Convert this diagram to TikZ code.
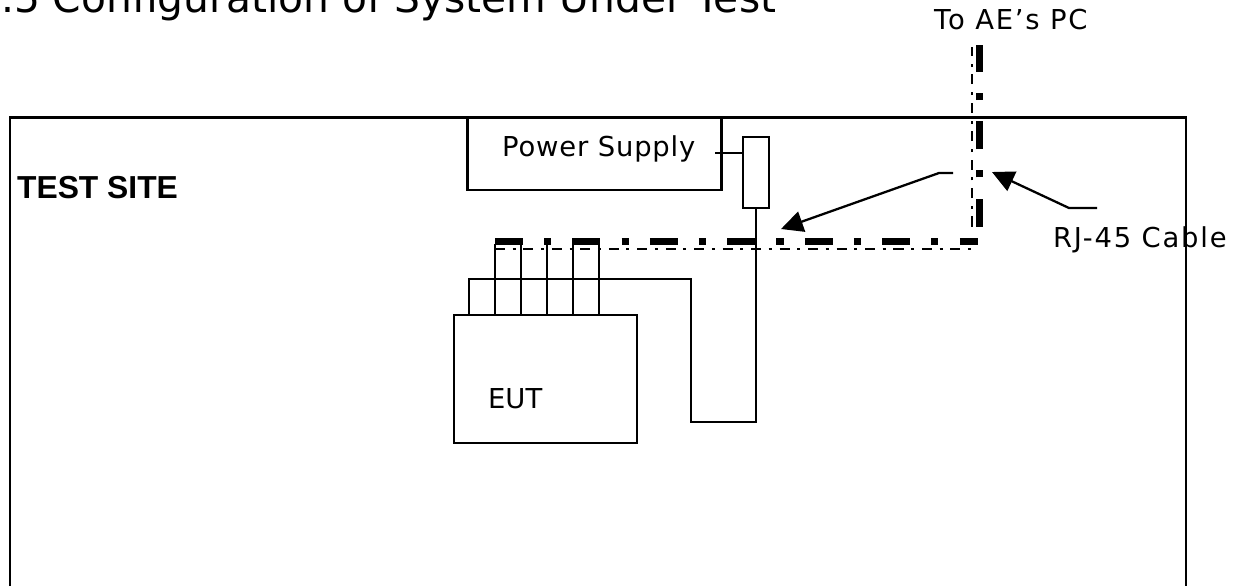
\documentclass[tikz,border=0pt]{standalone}
\usepackage{fontspec}
\setmainfont{DejaVu Sans}
\newfontfamily\sitefont{Liberation Sans}
\newfontfamily\widefont[LetterSpace=6.5]{DejaVu Sans}
\newfontfamily\midfont[LetterSpace=3]{DejaVu Sans}
\usetikzlibrary{arrows.meta}

\begin{document}
\begin{tikzpicture}[x=0.02cm,y=-0.02cm,line width=1.3pt,
        box/.style={draw,inner sep=0pt},
        txt/.style={inner sep=0pt,anchor=base west,font=\fontsize{15.6}{18}\selectfont},
        widetxt/.style={inner sep=0pt,anchor=base west,font=\widefont\fontsize{15.6}{18}\selectfont},
        midtxt/.style={inner sep=0pt,anchor=base west,font=\midfont\fontsize{15.6}{18}\selectfont},
        cablethick/.style={line width=4.1pt,dash pattern=on 15.9pt off 12pt on 4pt off 12.2pt},
        cablethin/.style={line width=1.2pt,dash pattern=on 5.7pt off 4.3pt on 1.7pt off 4.5pt},
        pointer/.style={-{Triangle[length=12.5pt,width=12pt]}}]
    \useasboundingbox (0,0) rectangle (1236,586);
    \node[anchor=base west,inner sep=0pt,font=\fontsize{23.2}{26}\selectfont] (title) at (0,12) {.5 Configuration of System Under Test};
    \node[widetxt] (toae) at (933,29) {To AE’s PC};
    \draw (10,586)--(10,117.5)--(1186,117.5)--(1186,586);
    \node[anchor=base west,inner sep=0pt,font=\sitefont\bfseries\fontsize{18.1}{20}\selectfont] (site) at (16,198) {TEST SITE};
    \node[box,minimum width=144.5pt,minimum height=41.5pt] (psu) at (594.5,153.5) {};
    \node[midtxt] (psutext) at (501,156) {Power Supply};
    \node[box,minimum width=14.8pt,minimum height=40.4pt] (tap) at (756,172.5) {};
    \node[box,minimum width=104pt,minimum height=72.8pt] (eut) at (545.5,379) {};
    \node[txt] (euttext) at (487,408) {EUT};
    \node[widetxt] (rj) at (1052,247) {RJ-45 Cable};

    \coordinate (stub) at (715,153);
    \draw (stub)--(stub -| tap.west);

    \coordinate (turn) at (756,422);
    \draw (tap.south)--(turn)--(691,422)--(691,279)--(469,279)--(469,315);

    \coordinate (hstart) at (495,241.5);
    \coordinate (hend) at (978,241.5);
    \coordinate (vstart) at (979.5,226.5);
    \coordinate (vend) at (979.5,45);
    \draw[cablethick] (hstart)--(hend);
    \draw[cablethick] (vstart)--(vend);
    \coordinate (hstartb) at (495,249);
    \coordinate (hendb) at (978,249);
    \coordinate (vstartb) at (972,226.5);
    \coordinate (vendb) at (972,47);
    \draw[cablethin] (hstartb)--(hendb);
    \draw[cablethin] (vstartb)--(vendb);

    \coordinate (p1) at (495,244);
    \coordinate (p2) at (521,244);
    \coordinate (p3) at (547,244);
    \coordinate (p4) at (573,244);
    \coordinate (p5) at (599,244);
    \draw (p1)--(p1 |- eut.north);
    \draw (p2)--(p2 |- eut.north);
    \draw[shorten >=-1pt] (p3)--(p3 |- eut.north);
    \draw[shorten >=-1pt] (p4)--(p4 |- eut.north);
    \draw[shorten >=-1pt] (p5)--(p5 |- eut.north);

    \coordinate (la) at (953,173);
    \coordinate (lb) at (939,173);
    \coordinate (lc) at (781,229);
    \draw[pointer] (la)--(lb)--(lc);
    \coordinate (ra) at (1097,208);
    \coordinate (rb) at (1069,208);
    \coordinate (rc) at (992,172);
    \draw[pointer] (ra)--(rb)--(rc);
\end{tikzpicture}
\end{document}
